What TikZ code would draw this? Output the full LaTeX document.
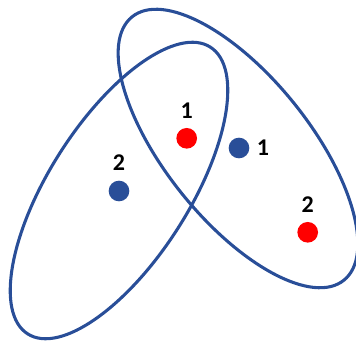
\documentclass[tikz,border=0pt]{standalone}
\usepackage{fontspec}
\setmainfont{Carlito}
\usetikzlibrary{positioning}
\definecolor{ringblue}{RGB}{41,78,152}
\definecolor{dotred}{RGB}{255,0,0}
\begin{document}
\begin{tikzpicture}[
  x=0.75pt, y=0.75pt,
  node distance=21pt,
  ring/.style={draw=ringblue, line width=2.3pt},
  dot/.style={circle, fill=#1, inner sep=0pt, minimum size=15.5pt},
  lab/.style={font=\fontsize{18}{21}\selectfont\bfseries, inner sep=0pt}
]
\useasboundingbox (0,0) rectangle (356,-345);

% the two groups
\draw[ring, rotate around={57.5:(119,-190.5)}] (119,-190.5) ellipse [x radius=170, y radius=70];
\draw[ring, rotate around={-51.2:(238,-148.5)}] (238,-148.5) ellipse [x radius=169, y radius=72];

% points
\node[dot=dotred] (redA) at (186.7,-138.3) {};
\node[dot=ringblue] (blueA) at (239,-148) {};
\node[dot=ringblue] (blueB) at (119,-191) {};
\node[dot=dotred] (redB) at (307.7,-232.3) {};

\node[lab, above of=redA] (redAlab) {1};
\node[lab, right of=blueA, node distance=18pt] (blueAlab) {1};
\node[lab, above of=blueB] (blueBlab) {2};
\node[lab, above of=redB] (redBlab) {2};
\end{tikzpicture}
\end{document}
